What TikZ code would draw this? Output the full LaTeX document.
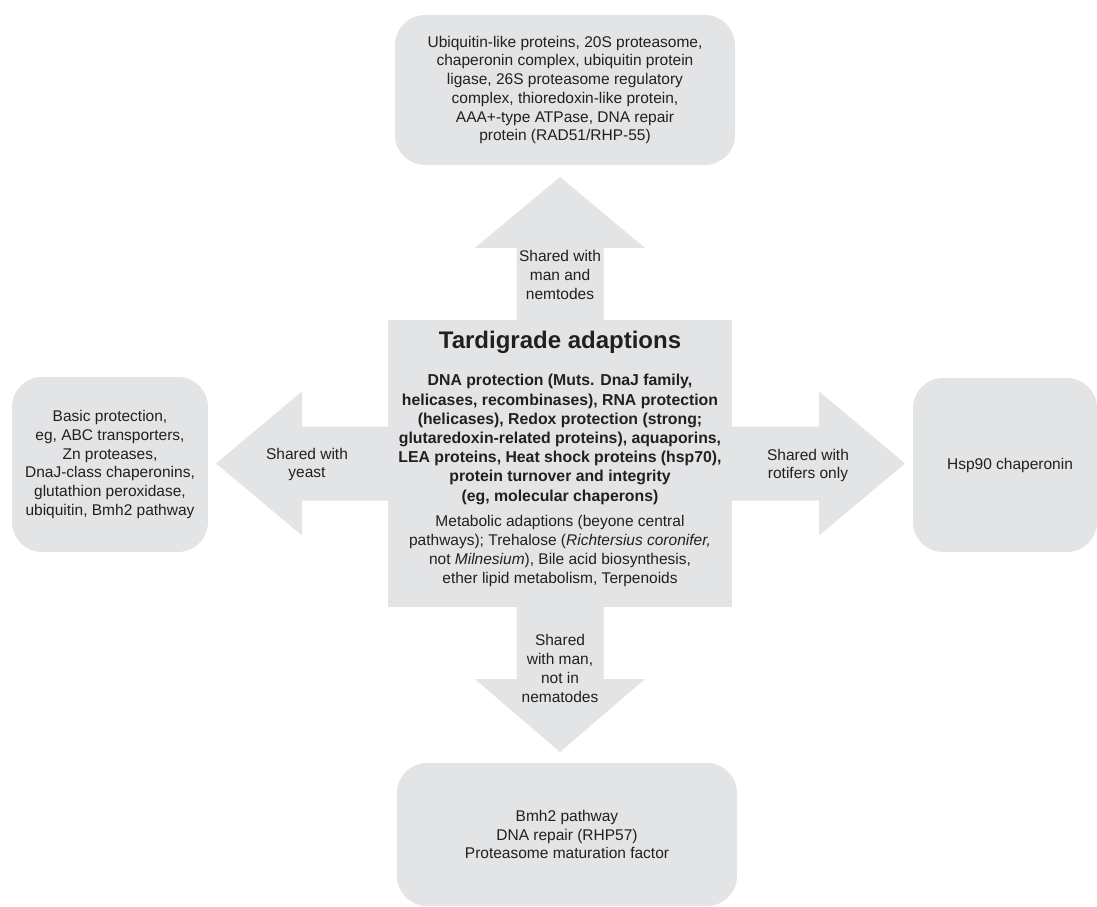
\documentclass[tikz,border=0pt]{standalone}
\usepackage{fontspec}
\setmainfont{Liberation Sans}
\usetikzlibrary{calc}

\definecolor{panel}{RGB}{227,228,230}
\definecolor{ink}{RGB}{35,31,32}

\begin{document}
\begin{tikzpicture}
	[x=1pt, y=-1pt,
	every node/.style={text=ink, align=center, inner sep=0pt, font=\fontsize{15.5}{18.7}\selectfont},
	roundbox/.style={fill=panel, rounded corners=30pt},
	corebox/.style={fill=panel, minimum width=344pt, minimum height=287pt},
	boldtext/.style={font=\fontsize{15.8}{19.2}\selectfont\bfseries}]
	\useasboundingbox (0,0) rectangle (1097,907);

	% centre block and its four block arrows
	\node[corebox] (core) at (560,463.5) {};
	\coordinate (uptip) at (560,177);
	\coordinate (downtip) at (560,752);
	\coordinate (lefttip) at (216,463.5);
	\coordinate (righttip) at (905,463.5);
	\fill[panel] (core.north) ++(-43.5,2) -- ++(0,-74) -- ++(-41.5,0) -- (uptip)
		-- ++(85,71) -- ++(-41.5,0) -- ++(0,74) -- cycle;
	\fill[panel] (core.south) ++(-43.5,-2) -- ++(0,74) -- ++(-41.5,0) -- (downtip)
		-- ++(85,-73) -- ++(-41.5,0) -- ++(0,-74) -- cycle;
	\fill[panel] (core.west) ++(2,-37) -- ++(-88,0) -- ++(0,-35) -- (lefttip)
		-- ++(86,72) -- ++(0,-35) -- ++(88,0) -- cycle;
	\fill[panel] (core.east) ++(-2,-37) -- ++(89,0) -- ++(0,-35) -- (righttip)
		-- ++(-86,72) -- ++(0,-35) -- ++(-89,0) -- cycle;

	% outer boxes
	\node[roundbox, minimum width=340pt, minimum height=150pt] (topbox) at (565,90)
		{Ubiquitin-like proteins, 20S proteasome,\\ chaperonin complex, ubiquitin protein\\
		ligase, 26S proteasome regulatory\\ complex, thioredoxin-like protein,\\
		AAA+-type ATPase, DNA repair\\ protein (RAD51/RHP-55)};
	\node[roundbox, minimum width=196pt, minimum height=175pt] (leftbox) at (110,464.5)
		{Basic protection,\\ eg, ABC transporters,\\ Zn proteases,\\ DnaJ-class chaperonins,\\
		glutathion peroxidase,\\ ubiquitin, Bmh2 pathway};
	\node[roundbox, minimum width=184pt, minimum height=174pt] (rightbox) at (1005,465)
		{\hspace*{10pt}Hsp90 chaperonin};
	\node[roundbox, minimum width=340pt, minimum height=143pt] (bottombox) at (567,834.5)
		{Bmh2 pathway\\ DNA repair (RHP57)\\ Proteasome maturation factor};

	% text in the centre block
	\node[font=\fontsize{24}{28}\selectfont\bfseries] (title) at (560,342) {Tardigrade adaptions};
	\node[boldtext] (protect) at (560,439.5)
		{DNA protection (Muts. DnaJ family,\\ helicases, recombinases), RNA protection\\
		(helicases), Redox protection (strong;\\ glutaredoxin-related proteins), aquaporins,\\
		LEA proteins, Heat shock proteins (hsp70),\\ protein turnover and integrity\\
		(eg, molecular chaperons)};
	\node (metab) at (560,551)
		{Metabolic adaptions (beyone central\\ pathways); Trehalose (\textit{Richtersius coronifer,}\\
		not \textit{Milnesium}), Bile acid biosynthesis,\\ ether lipid metabolism, Terpenoids};

	% arrow labels
	\node (upnote) at (560,275) {Shared with\\ man and\\ nemtodes};
	\node (leftnote) at (307,464.5) {Shared with\\ yeast};
	\node (rightnote) at (808,465.5) {Shared with\\ rotifers only};
	\node (downnote) at (560,668.5) {Shared\\ with man,\\ not in\\ nematodes};
\end{tikzpicture}
\end{document}
